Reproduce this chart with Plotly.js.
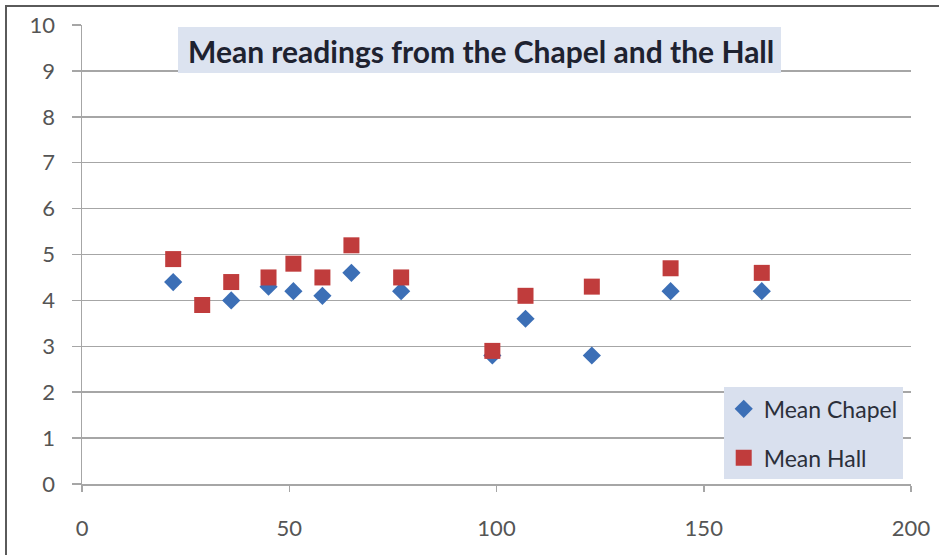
<!DOCTYPE html>
<html>
<head>
<meta charset="utf-8">
<script src="https://cdn.plot.ly/plotly-3.0.1.min.js"></script>
<style>
  html, body { margin: 0; padding: 0; background: #ffffff; }
  #frame {
    position: absolute; left: 0; top: 0; width: 939px; height: 555px;
    overflow: hidden; background: #ffffff;
  }
  #edge {
    position: absolute; left: 5px; top: 5px; width: 940px; height: 560px;
    border-top: 2px solid #5a5a5a; border-left: 2px solid #5a5a5a;
    pointer-events: none;
  }
  #chart { position: absolute; left: 0; top: 0; width: 939px; height: 555px; }
</style>
</head>
<body>
<div id="frame">
  <div id="chart"></div>
  <div id="edge"></div>
</div>
<script>
// Sampling positions along the x axis
const positions = [22, 29, 36, 45, 51, 58, 65, 77, 99, 107, 123, 142, 164];
// Mean readings at each position (null where no Chapel reading is shown)
const meanChapel = [4.4, null, 4.0, 4.3, 4.2, 4.1, 4.6, 4.2, 2.8, 3.6, 2.8, 4.2, 4.2];
const meanHall   = [4.9, 3.9, 4.4, 4.5, 4.8, 4.5, 5.2, 4.5, 2.9, 4.1, 4.3, 4.7, 4.6];
// Series names and axis ticks
const seriesNames = ["Mean Chapel", "Mean Hall"];
const chartTitle = "Mean readings from the Chapel and the Hall";
const xTicks = [0, 50, 100, 150, 200];
const yTicks = [0, 1, 2, 3, 4, 5, 6, 7, 8, 9, 10];

const FONT = "Lato, 'Open Sans', 'DejaVu Sans', sans-serif";

const traces = [
  {
    type: "scatter", mode: "markers", name: seriesNames[0],
    x: positions, y: meanChapel, legendgroup: "a",
    marker: { symbol: "diamond", size: 14, color: "#3c6fb6", line: { width: 0 } }
  },
  {
    type: "scatter", mode: "markers", name: seriesNames[1],
    x: positions, y: meanHall, legendgroup: "b",
    marker: { symbol: "square", size: 16, color: "#c03c3c", line: { width: 0 } }
  }
];

const layout = {
  width: 939, height: 555,
  margin: { l: 82, r: 28, t: 25, b: 71, pad: 0 },
  paper_bgcolor: "rgba(0,0,0,0)",
  plot_bgcolor: "#ffffff",
  font: { family: FONT, size: 22, color: "#5a5a5a" },
  xaxis: {
    range: [0, 200], tickvals: xTicks, ticktext: xTicks.map(String),
    showgrid: false, zeroline: false,
    showline: true, linecolor: "#a6a6a6", linewidth: 1.5,
    ticks: "outside", ticklen: 6, tickcolor: "#a6a6a6", tickwidth: 1.5,
    ticklabelstandoff: 18,
    tickfont: { family: FONT, size: 22, color: "#555555" },
    fixedrange: true
  },
  yaxis: {
    range: [0, 10], tickvals: yTicks, ticktext: yTicks.map(String),
    showgrid: true, gridcolor: "#a6a6a6", gridwidth: 1.5,
    zeroline: false,
    showline: true, linecolor: "#a6a6a6", linewidth: 1.5,
    ticks: "outside", ticklen: 9, tickcolor: "#a6a6a6", tickwidth: 1.5,
    ticklabelstandoff: 12,
    tickfont: { family: FONT, size: 22, color: "#555555" },
    fixedrange: true
  },
  showlegend: true,
  legend: {
    x: 0.99, xanchor: "right", y: 0.01, yanchor: "bottom",
    bgcolor: "#d9e0ee", borderwidth: 0,
    tracegroupgap: 16,
    font: { family: FONT, size: 23, color: "#2b2f3a" },
    itemwidth: 30
  },
  shapes: [
    {
      type: "rect", xref: "paper", yref: "paper", layer: "above",
      x0: (178 - 82) / 829, x1: (781 - 82) / 829,
      y0: (484 - 73) / 459, y1: (484 - 27) / 459,
      fillcolor: "#dce3f0", line: { width: 0 }
    }
  ],
  annotations: [
    {
      text: "<b>" + chartTitle + "</b>", xref: "paper", yref: "paper",
      x: (481 - 82) / 829, y: (484 - 51) / 459,
      xanchor: "center", yanchor: "middle", showarrow: false,
      font: { family: FONT, size: 30, color: "#1e2230" }
    }
  ]
};

Plotly.newPlot("chart", traces, layout, { staticPlot: true, displayModeBar: false });
</script>
</body>
</html>
